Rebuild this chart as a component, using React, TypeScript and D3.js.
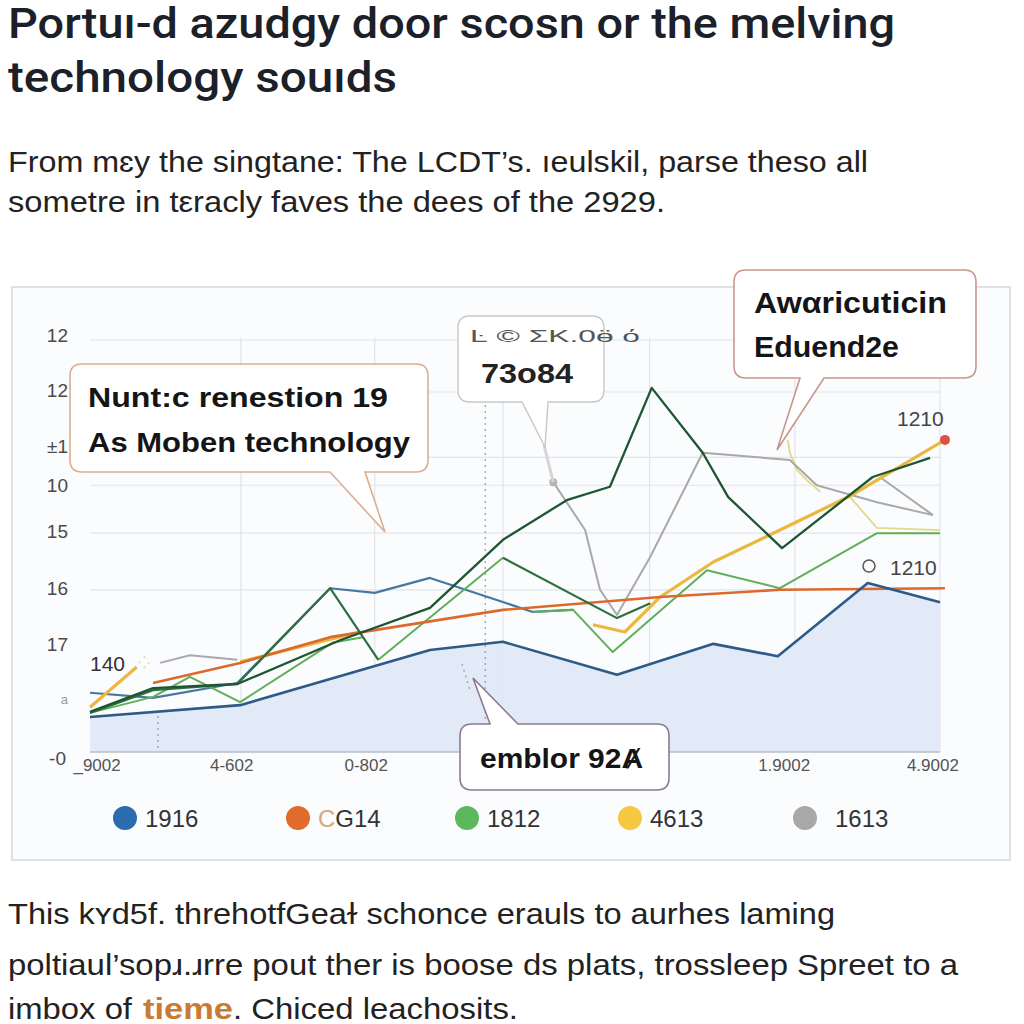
import React from 'react';
import * as d3 from 'd3';

// ---------- text ----------
const titleLines = ['Portuı-d azudgy door scosn or the melving', 'technology souıds'];
const subtitleLines = [
  'From mɛy the singtane: The LCDT’s. ıeulskil, parse theso all',
  'sometre in tεracly faves the dees of the 2929.',
];
const footerLines = [
  'This kʏd5f. threhotfGeaɫ schonce erauls to aurhes laming',
  'poltiaul’sopɹ.ɹrre pout ther is boose ds plats, trossleep Spreet to a',
];
const footerLast = ['imbox of', 'tieme', '. Chiced leachosits.'];

// ---------- axes ----------
const yTickValues = [0, 1, 2.05, 3.15, 4.25, 5.15, 5.9, 6.99, 8.05];
const yTickLabels = ['-0', 'a', '17', '16', '15', '10', '±1', '12', '12'];
const yGridValues = [3.15, 4.25, 5.18, 5.72, 6.99, 8.0];
const xGridValues = [2.13, 4.02, 5.83, 7.9, 9.95, 12];
const xTickValues = [0.1, 2.0, 3.9, 9.8, 11.9];
const xTickLabels = ['_9002', '4-602', '0-802', '1.9002', '4.9002'];

// ---------- series ----------
const legendNames = ['1916', 'CG14', '1812', '4613', '1613'];
const legendColors = ['#2b6cb0', '#e06b2a', '#5cb85c', '#f5c842', '#a8a8a8'];

const navyX = [0, 2.12, 4.8, 5.83, 7.44, 8.8, 9.71, 10.98, 12];
const navyY = [0.68, 0.91, 1.98, 2.14, 1.5, 2.1, 1.86, 3.28, 2.91];

const steelX = [0, 0.89, 2.08, 3.39, 4.02, 4.8, 6.25, 6.82];
const steelY = [1.15, 1.05, 1.34, 3.18, 3.09, 3.38, 2.72, 2.76];

const mainDarkX = [0, 0.89, 2.08, 3.53, 4.8, 5.83, 6.73, 7.34, 7.93, 8.65, 9.01, 9.77, 11.05, 11.86];
const mainDarkY = [0.78, 1.24, 1.32, 2.17, 2.8, 4.12, 4.89, 5.15, 7.07, 5.81, 4.95, 3.96, 5.34, 5.71];

const darkZigX = [0, 0.89, 2.08, 3.39, 4.07, 4.07, 5.83, 7.44, 7.91];
const darkZigY = [0.76, 1.2, 1.32, 3.18, 1.79, null, 3.77, 2.6, 2.89];

const greenX = [0, 0.89, 1.41, 2.12, 3.42, 3.85, 3.85, 4.07, 5.83, 5.83, 6.25, 6.82, 7.38, 8.71, 9.74, 11.11, 12];
const greenY = [0.76, 1.07, 1.46, 0.97, 2.12, 2.23, null, 1.79, 3.77, null, 2.72, 2.76, 1.94, 3.53, 3.18, 4.25, 4.25];

const orangeX = [0.89, 2.12, 3.39, 5.83, 8.05, 9.74, 12.07];
const orangeY = [1.34, 1.73, 2.23, 2.76, 3.01, 3.15, 3.18];

const yellowX = [0, 0.66, 0.66, 2.12, 3.81, 3.81, 7.1, 7.55, 8.05, 8.8, 9.74, 10.73, 12.07];
const yellowY = [0.87, 1.65, null, 1.75, 2.33, null, 2.47, 2.33, 3.01, 3.69, 4.31, 4.97, 6.06];

const grayX = [0.99, 1.41, 2.08, 2.08, 6.54, 6.99, 7.2, 7.44, 7.91, 8.65, 9.88, 10.26, 11.11, 11.9, 11.9, 11.15, 11.9];
const grayY = [1.73, 1.88, 1.79, null, 5.24, 4.31, 3.15, 2.66, 3.79, 5.81, 5.67, 5.18, 4.85, 4.6, null, 5.34, 4.6];

const paleX = [9.85, 9.88, 9.98, 10.12, 10.31, 10.31, 10.73, 11.11, 12];
const paleY = [6.06, 5.81, 5.48, 5.28, 5.05, null, 4.95, 4.35, 4.31];

const FONT = '"Liberation Sans", Arial, sans-serif';
const TITLE_FONT = 'Roboto, "Liberation Sans", Arial, sans-serif';

type Pt = { x: number; y: number | null };
const zip = (xs: number[], ys: (number | null)[]): Pt[] => xs.map((x, i) => ({ x, y: ys[i] }));

function calloutPath(
  x0: number, y0: number, x1: number, y1: number, r: number,
  side: 'bottom' | 'top', bA: number, bB: number, tx: number, ty: number
) {
  if (side === 'bottom') {
    return `M${x0 + r},${y0} H${x1 - r} Q${x1},${y0} ${x1},${y0 + r} V${y1 - r} Q${x1},${y1} ${x1 - r},${y1} H${bB} L${tx},${ty} L${bA},${y1} H${x0 + r} Q${x0},${y1} ${x0},${y1 - r} V${y0 + r} Q${x0},${y0} ${x0 + r},${y0} Z`;
  }
  return `M${x0 + r},${y0} H${bA} L${tx},${ty} L${bB},${y0} H${x1 - r} Q${x1},${y0} ${x1},${y0 + r} V${y1 - r} Q${x1},${y1} ${x1 - r},${y1} H${x0 + r} Q${x0},${y1} ${x0},${y1 - r} V${y0 + r} Q${x0},${y0} ${x0 + r},${y0} Z`;
}

export default function App() {
  const x = d3.scaleLinear().domain([0, 12]).range([90, 940]);
  const y = d3.scaleLinear().domain([0, 8]).range([752, 340]);

  const line = d3
    .line<Pt>()
    .defined((d) => d.y != null)
    .x((d) => x(d.x))
    .y((d) => y(d.y as number));
  const area = d3
    .area<Pt>()
    .x((d) => x(d.x))
    .y0(y(0))
    .y1((d) => y(d.y as number));

  const navy = zip(navyX, navyY);
  const yellow = zip(yellowX, yellowY);
  const gray = zip(grayX, grayY);
  const yEnd = yellow[yellow.length - 1];

  const lines = [
    { d: zip(paleX, paleY), c: '#e2d98a', w: 1.8 },
    { d: gray, c: '#a9a9a9', w: 2 },
    { d: zip(steelX, steelY), c: '#46789f', w: 2.2 },
    { d: yellow, c: '#eab83f', w: 3.2 },
    { d: zip(greenX, greenY), c: '#5fae58', w: 2 },
    { d: zip(orangeX, orangeY), c: '#dc6a2c', w: 2.6 },
    { d: zip(darkZigX, darkZigY), c: '#2f6e3f', w: 2.2 },
    { d: zip(mainDarkX, mainDarkY), c: '#1e5631', w: 2.3 },
    { d: navy, c: '#2e5a87', w: 2.6 },
  ];

  const legendX = [125, 298, 467, 630, 805];

  return (
    <svg
      width={1024}
      height={1024}
      style={{ position: 'absolute', left: 0, top: 0, background: '#fff' }}
      fontFamily={FONT}
    >
      <rect x={0} y={0} width={1024} height={1024} fill="#ffffff" />
      {/* title */}
      <text x={8} y={38} fontFamily={TITLE_FONT} fontSize={42} fontWeight={500} fill="#1b2029" textLength={887} lengthAdjust="spacingAndGlyphs">
        {titleLines[0]}
      </text>
      <text x={8} y={92} fontFamily={TITLE_FONT} fontSize={42} fontWeight={500} fill="#1b2029" textLength={389} lengthAdjust="spacingAndGlyphs">
        {titleLines[1]}
      </text>
      <text x={8} y={172} fontSize={30} fill="#222" textLength={860} lengthAdjust="spacingAndGlyphs">
        {subtitleLines[0]}
      </text>
      <text x={8} y={212} fontSize={30} fill="#222" textLength={657} lengthAdjust="spacingAndGlyphs">
        {subtitleLines[1]}
      </text>

      {/* card */}
      <rect x={12} y={287} width={998} height={573} fill="#fbfcfe" stroke="#d6d8dc" strokeWidth={1.5} />

      {/* grid */}
      {yGridValues.map((v, i) => (
        <line key={'gy' + i} x1={x(0)} x2={x(12)} y1={y(v)} y2={y(v)} stroke="#e1e4e9" strokeWidth={1.2} />
      ))}
      {xGridValues.map((v, i) => (
        <line key={'gx' + i} x1={x(v)} x2={x(v)} y1={y(8.05)} y2={y(0)} stroke="#e1e4e9" strokeWidth={1.2} />
      ))}

      {/* area */}
      <path d={area(navy) || ''} fill="#dfe9f6" opacity={0.95} />
      <line x1={x(0)} x2={x(12)} y1={y(0)} y2={y(0)} stroke="#b9bec6" strokeWidth={1.5} />

      {/* dotted guides */}
      <line x1={x(5.58)} x2={x(5.58)} y1={405} y2={y(0.1)} stroke="#9aa0a8" strokeWidth={1.3} strokeDasharray="2 4" />
      <line x1={x(0.96)} x2={x(0.96)} y1={y(0.7)} y2={y(0)} stroke="#9aa0a8" strokeWidth={1.3} strokeDasharray="2 4" />
      <line x1={462} x2={470} y1={664} y2={690} stroke="#9aa0a8" strokeWidth={1.3} strokeDasharray="2 4" />

      {/* lines */}
      {lines.map((s, i) => (
        <path key={'l' + i} d={line(s.d) || ''} fill="none" stroke={s.c} strokeWidth={s.w} strokeLinejoin="round" />
      ))}
      <circle cx={x(gray[4].x)} cy={y(gray[4].y as number)} r={4} fill="#b5b5b5" />
      <line x1={544} y1={445} x2={x(gray[4].x)} y2={y(gray[4].y as number)} stroke="#d5d5d5" strokeWidth={3} />
      <circle cx={x(yEnd.x)} cy={y(yEnd.y as number)} r={5} fill="#d9533f" />

      {/* y labels */}
      {yTickValues.map((v, i) => (
        <text
          key={'yt' + i}
          x={i === 0 ? 66 : 68}
          y={y(v) + (i === 0 ? 8 : 0)}
          fontSize={i === 1 ? 13 : 19}
          fill={i === 1 ? '#999' : '#4a4a4a'}
          textAnchor="end"
          dominantBaseline="middle"
        >
          {yTickLabels[i]}
        </text>
      ))}
      {/* x labels */}
      {xTickValues.map((v, i) => (
        <text key={'xt' + i} x={x(v)} y={771} fontSize={17} fill="#555" textAnchor="middle">
          {xTickLabels[i]}
        </text>
      ))}

      {/* value labels */}
      <text x={90} y={671} fontSize={21} fill="#333">140</text>
      <text x={138} y={668} fontSize={16} fill="#e8dc90">⁖·</text>
      <text x={897} y={426} fontSize={21} fill="#444">1210</text>
      <circle cx={869} cy={566} r={6} fill="none" stroke="#555" strokeWidth={1.5} />
      <text x={890} y={575} fontSize={21} fill="#444">1210</text>

      {/* callouts */}
      <path d={calloutPath(70, 364, 428, 472, 12, 'bottom', 330, 365, 385, 532)} fill="#ffffff" stroke="#dcae90" strokeWidth={1.6} />
      <text x={88} y={407} fontSize={28} fontWeight={700} fill="#151515" textLength={300} lengthAdjust="spacingAndGlyphs">Nunt:c renestion 19</text>
      <text x={88} y={452} fontSize={28} fontWeight={700} fill="#151515" textLength={322} lengthAdjust="spacingAndGlyphs">As Moben technology</text>

      <path d={calloutPath(458, 316, 604, 402, 12, 'bottom', 522, 548, 545, 447)} fill="#ffffff" stroke="#c8c8c8" strokeWidth={1.4} />
      <text x={470} y={342} fontSize={17} fill="#555" textLength={170} lengthAdjust="spacingAndGlyphs">Ŀ © ΣΚ.0ӫ ό</text>
      <text x={481} y={383} fontSize={28} fontWeight={700} fill="#222" textLength={92} lengthAdjust="spacingAndGlyphs">73o84</text>

      <path d={calloutPath(734, 270, 976, 378, 12, 'bottom', 800, 824, 777, 450)} fill="#ffffff" stroke="#c9968c" strokeWidth={1.6} />
      <text x={754} y={313} fontSize={29} fontWeight={700} fill="#151515" textLength={193} lengthAdjust="spacingAndGlyphs">Awαricuticin</text>
      <text x={754} y={357} fontSize={29} fontWeight={700} fill="#151515" textLength={145} lengthAdjust="spacingAndGlyphs">Eduend2e</text>

      <path d={calloutPath(460, 724, 669, 790, 12, 'top', 490, 518, 473, 678)} fill="#ffffff" stroke="#8d7a92" strokeWidth={1.6} />
      <text x={480} y={768} fontSize={28} fontWeight={700} fill="#151515" textLength={163} lengthAdjust="spacingAndGlyphs">emblor 92Ⱥ</text>

      {/* legend */}
      {legendNames.map((n, i) => (
        <g key={'lg' + i}>
          <circle cx={legendX[i]} cy={818} r={12} fill={legendColors[i]} />
          <text x={legendX[i] + (i === 4 ? 30 : 20)} y={827} fontSize={24} fill="#333">
            {i === 1 ? (
              <>
                <tspan fill="#d8a878">C</tspan>
                <tspan>G14</tspan>
              </>
            ) : (
              n
            )}
          </text>
        </g>
      ))}

      {/* footer */}
      <text x={8} y={924} fontSize={30} fill="#222" textLength={827} lengthAdjust="spacingAndGlyphs">
        {footerLines[0]}
      </text>
      <text x={8} y={975} fontSize={30} fill="#222" textLength={950} lengthAdjust="spacingAndGlyphs">
        {footerLines[1]}
      </text>
      <text x={8} y={1019} fontSize={30} fill="#222" textLength={124} lengthAdjust="spacingAndGlyphs">
        {footerLast[0]}
      </text>
      <text x={143} y={1019} fontSize={30} fill="#c97a33" fontWeight={700} textLength={90} lengthAdjust="spacingAndGlyphs">
        {footerLast[1]}
      </text>
      <text x={233} y={1019} fontSize={30} fill="#222" textLength={285} lengthAdjust="spacingAndGlyphs">
        {footerLast[2]}
      </text>
    </svg>
  );
}
